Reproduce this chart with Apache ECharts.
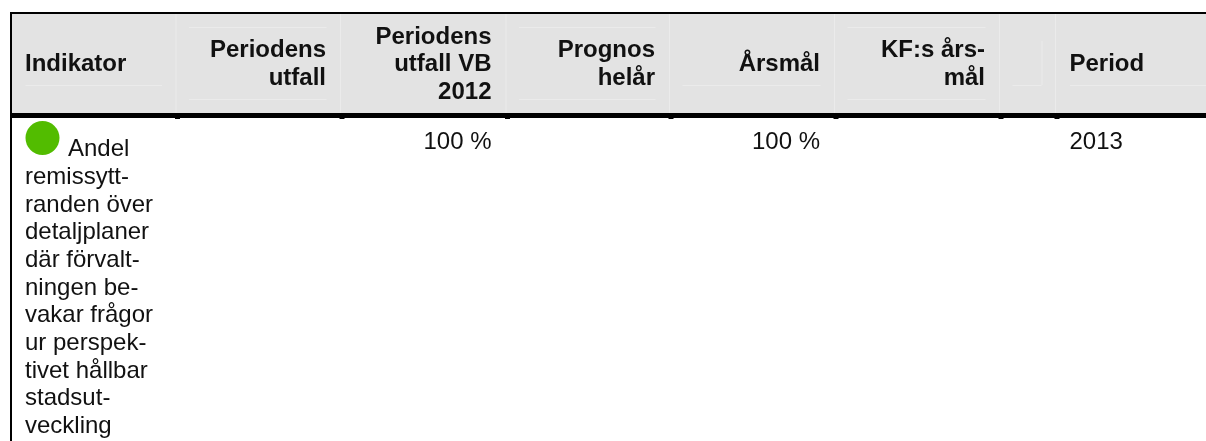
<!DOCTYPE html>
<html>
<head>
<meta charset="utf-8">
<style>html,body{margin:0;padding:0;background:#fff}#main{width:1206px;height:441px}</style>
<script src="https://cdn.jsdelivr.net/npm/echarts@6/dist/echarts.min.js"></script>
</head>
<body>
<div id="main"></div>
<script>
// table content
var headers = [['Indikator'], ['Periodens', 'utfall'], ['Periodens', 'utfall VB', '2012'], ['Prognos', 'helår'], ['Årsmål'], ['KF:s års-', 'mål'], [''], ['Period']];
var headerAlign = ['left', 'right', 'right', 'right', 'right', 'right', 'right', 'left'];
var rowValues = ['', '', '100 %', '', '100 %', '', '', '2013'];
var indicatorLines = ['Andel', 'remissytt-', 'randen över', 'detaljplaner', 'där förvalt-', 'ningen be-', 'vakar frågor', 'ur perspek-', 'tivet hållbar', 'stadsut-', 'veckling'];
var statusColor = '#52bc00';

// column edges
var colX = [12, 175.5, 340, 505.5, 669, 834, 999, 1055, 1206];
var font = 'Liberation Sans, Arial, sans-serif';
var fontSize = 24;
var lineH = 27.5;
var els = [];

function rect(x, y, w, h, fill) {
  els.push({ type: 'rect', shape: { x: x, y: y, width: w, height: h }, style: { fill: fill }, silent: true });
}
function text(str, x, y, align, bold) {
  els.push({
    type: 'text', x: x, y: y, silent: true,
    style: { text: str, fill: '#111', font: (bold ? 'bold ' : '') + fontSize + 'px ' + font, textAlign: align, textVerticalAlign: 'middle' }
  });
}

rect(12, 14, 1194, 99, '#e3e3e3');
// lighter cell lines in the header
colX.slice(1, 8).forEach(function (x) { rect(x, 14, 1, 99, '#ebebeb'); });
headers.forEach(function (h, i) {
  var l = colX[i] + 13.5, r = colX[i + 1] - 13.5;
  if (i == 7) { l = 1070; r = 1206; }
  var lines = h.length;
  if (lines == 2) {
    rect(l, 27, r - l, 1, '#ebebeb');
    rect(l, 99, r - l, 1, '#ebebeb');
  } else if (lines == 1) {
    rect(l, 85, r - l, 1, '#ebebeb');
  }
  if (i == 6) rect(r, 41, 1, 44, '#ebebeb');
  var tx = headerAlign[i] == 'left' ? l - 0.5 : r - 0.5;
  h.forEach(function (s, j) {
    text(s, tx, 64.5 + (j - (lines - 1) / 2) * lineH, headerAlign[i], true);
  });
  if (rowValues[i]) text(rowValues[i], tx, 142, headerAlign[i], false);
});

// black frame
rect(10, 12, 1196, 2, '#000');
rect(10, 12, 2, 429, '#000');
rect(10, 113, 1196, 5, '#000');
colX.slice(1, 8).forEach(function (x) { rect(x - 0.5, 118, 5, 1, '#000'); });

// indicator cell
els.push({ type: 'circle', shape: { cx: 42.5, cy: 138, r: 17 }, style: { fill: statusColor }, silent: true });
indicatorLines.forEach(function (s, i) {
  text(s, i == 0 ? 68 : 25, 149.5 + i * 27.7, 'left', false);
});

var chart = echarts.init(document.getElementById('main'));
chart.setOption({ backgroundColor: '#fff', animation: false, graphic: { elements: els } });
</script>
</body>
</html>
